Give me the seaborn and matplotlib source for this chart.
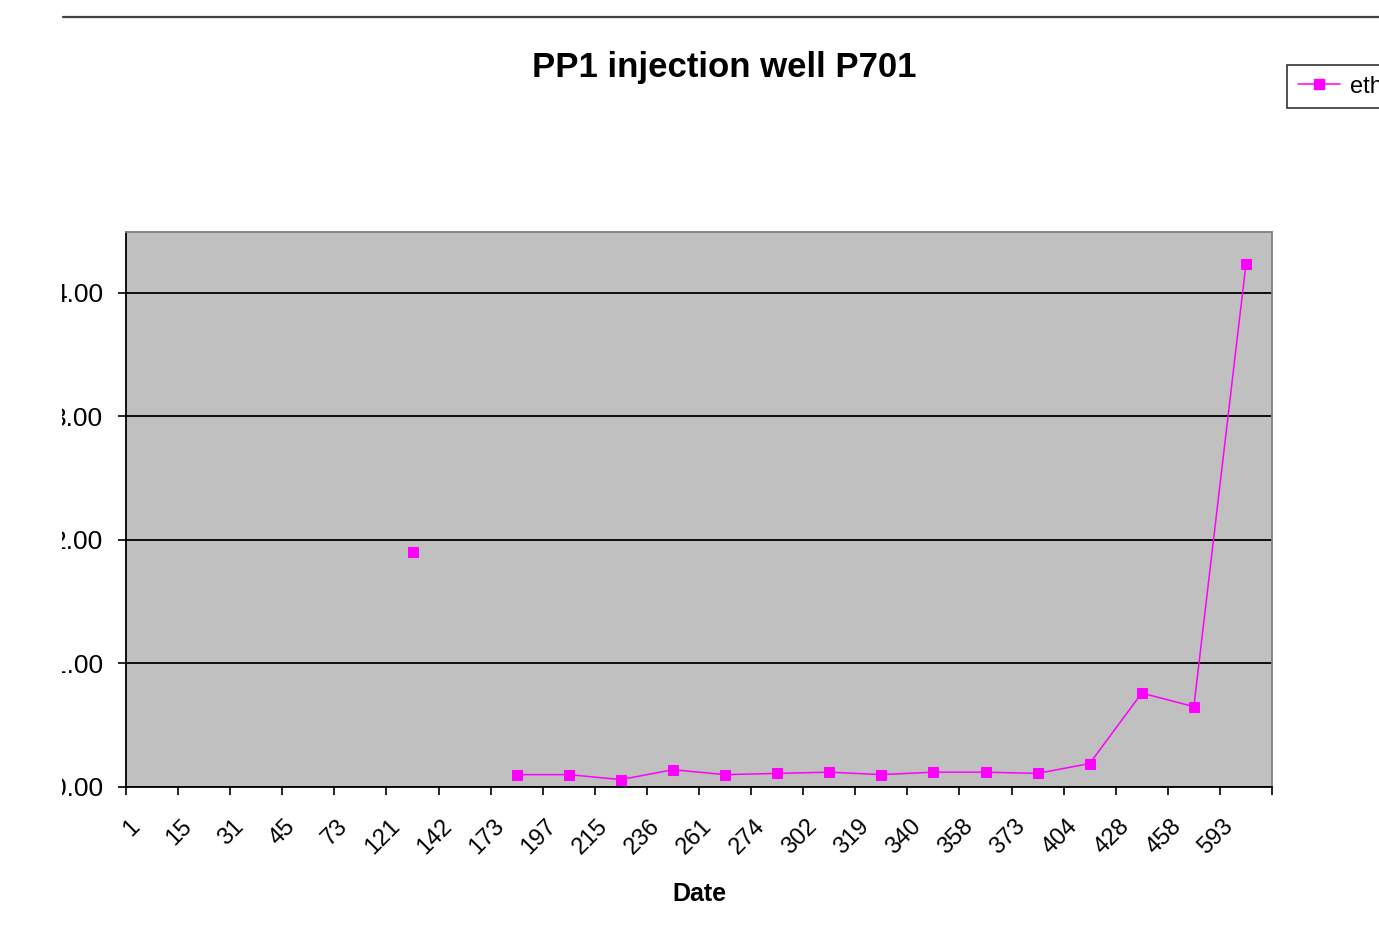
import numpy as np
import pandas as pd
import matplotlib
matplotlib.use("Agg")
import matplotlib.pyplot as plt
from matplotlib.lines import Line2D
from matplotlib.patches import Rectangle
from matplotlib.ticker import FixedLocator, NullFormatter
import matplotlib.transforms as mtransforms
import seaborn as sns

# ---- data ----
dates = ["1", "15", "31", "45", "73", "121", "142", "173", "197", "215", "236",
         "261", "274", "302", "319", "340", "358", "373", "404", "428", "458", "593"]
ethanol = [np.nan, np.nan, np.nan, np.nan, np.nan, 1.90, np.nan, 0.10, 0.10, 0.06, 0.14,
           0.10, 0.11, 0.12, 0.10, 0.12, 0.12, 0.11, 0.19, 0.76, 0.65, 4.23]
y_ticks = [0, 1, 2, 3, 4]
series_name = "ethanol"
title = "PP1 injection well P701"
x_title = "Date"

sns.set_style("white")
plt.rcParams["font.family"] = ["Liberation Sans", "DejaVu Sans"]
plt.rcParams["text.color"] = "black"
plt.rcParams["axes.labelcolor"] = "black"
plt.rcParams["xtick.color"] = "black"
plt.rcParams["ytick.color"] = "black"

W, H = 1379, 951
fig = plt.figure(figsize=(W / 100, H / 100), dpi=100)
ax = fig.add_axes([126 / W, 1 - 787 / H, (1272 - 126) / W, (787 - 232) / H])
ax.set_facecolor("#C0C0C0")

df = pd.DataFrame({"date": dates, "val": ethanol})
df["pos"] = np.arange(len(dates))
df["seg"] = df["val"].isna().cumsum()
df = df.dropna()

color = "#FF00FF"
sns.lineplot(data=df, x="pos", y="val", units="seg", estimator=None, ax=ax,
             color=color, lw=1.1, marker="s", markersize=6.5,
             markeredgecolor=color, markerfacecolor=color, legend=False, zorder=3)

ax.set_xlim(-0.5, len(dates) - 0.5)
ax.set_ylim(0, 4.49)

# gridlines
ax.set_yticks(y_ticks)
ax.set_yticklabels([f"{v:.2f}" for v in y_ticks])
ax.yaxis.grid(True, color="black", lw=1.3)
ax.xaxis.grid(False)
ax.set_axisbelow(True)

# x ticks: marks at category boundaries, labels near them
ax.xaxis.set_major_locator(FixedLocator(np.arange(-0.5, len(dates), 1.0)))
ax.xaxis.set_major_formatter(NullFormatter())
ax.set_xticks(np.arange(len(dates)), minor=True)
ax.set_xticklabels(dates, minor=True, rotation=45, ha="right", va="center",
                   rotation_mode="anchor", fontsize=17, color="black")
ax.tick_params(axis="x", which="major", bottom=True, length=6, width=1.2, color="black", direction="out")
ax.tick_params(axis="x", which="minor", bottom=True, length=0, pad=26)
ax.tick_params(axis="y", which="major", left=True, length=6, width=1.2, color="black",
               direction="out", labelsize=19, pad=10.5, labelcolor="black")

offset = mtransforms.ScaledTranslation(-16 / 100, 0, fig.dpi_scale_trans)
for lbl in ax.get_xticklabels(minor=True):
    lbl.set_transform(lbl.get_transform() + offset)

for s in ["left", "bottom"]:
    ax.spines[s].set_color("black")
    ax.spines[s].set_linewidth(1.3)
for s in ["top", "right"]:
    ax.spines[s].set_color("#808080")
    ax.spines[s].set_linewidth(1.3)
    ax.spines[s].set_visible(True)

ax.set_xlabel(x_title, fontsize=18, fontweight="bold", labelpad=17, color="black")
ax.set_ylabel("")

fig.text(724 / W, 1 - 67 / H, title, ha="center", va="center", fontsize=25,
         fontweight="bold", color="black")

# legend
handle = Line2D([], [], color=color, lw=1.1, marker="s", markersize=6.5,
                markerfacecolor=color, markeredgecolor=color)
leg = fig.legend([handle], [series_name], loc="upper left",
                 bbox_to_anchor=(1287 / W, 1 - 65 / H), frameon=True, fancybox=False,
                 edgecolor="black", fontsize=17, handlelength=1.8, borderpad=0.45,
                 handletextpad=0.4, borderaxespad=0)
leg.get_frame().set_linewidth(1.2)
for t in leg.get_texts():
    t.set_color("black")

# top rule
fig.add_artist(Line2D([63 / W, 1], [1 - 17 / H, 1 - 17 / H], transform=fig.transFigure,
                      color="#404040", lw=1.6))
# cropped left margin
fig.add_artist(Rectangle((0, 0), 62 / W, 1, transform=fig.transFigure,
                         facecolor="white", edgecolor="none", zorder=100))

fig.savefig("out.png", dpi=100)
